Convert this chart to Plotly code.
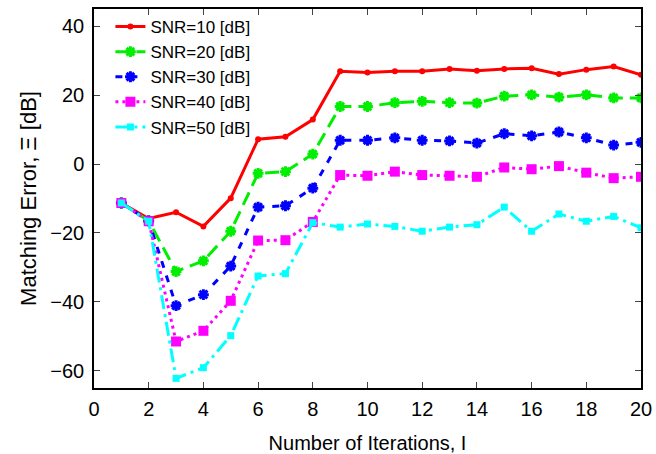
import plotly.graph_objects as go

iterations = list(range(1, 21))
snr10 = [-11.3, -15.8, -14.0, -18.1, -9.9, 7.2, 7.9, 12.9, 26.9, 26.6, 26.9, 26.9, 27.6, 27.1, 27.6, 27.8, 26.1, 27.4, 28.3, 25.9]
snr20 = [-11.3, -16.5, -31.2, -28.1, -19.5, -2.7, -2.2, 2.9, 16.7, 16.7, 17.8, 18.2, 17.8, 17.7, 19.7, 20.1, 19.4, 20.1, 19.2, 19.2]
snr30 = [-11.3, -16.5, -41.1, -37.9, -29.6, -12.5, -12.1, -7.0, 6.9, 6.9, 7.6, 6.9, 6.7, 6.1, 8.8, 8.2, 9.3, 7.6, 5.5, 6.3]
snr40 = [-11.3, -16.6, -51.5, -48.4, -39.7, -22.2, -22.1, -16.8, -3.2, -3.4, -2.2, -3.2, -3.4, -3.7, -1.0, -1.5, -0.6, -2.5, -4.1, -3.7]
snr50 = [-11.3, -16.6, -62.2, -59.1, -49.8, -32.5, -31.8, -17.0, -18.3, -17.4, -18.1, -19.5, -18.3, -17.6, -12.5, -19.5, -14.5, -16.6, -15.2, -18.5]

names = ["SNR=10 [dB]", "SNR=20 [dB]", "SNR=30 [dB]", "SNR=40 [dB]", "SNR=50 [dB]"]
series = [snr10, snr20, snr30, snr40, snr50]
colors = ["#ff0000", "#00ee00", "#0000ff", "#ff00ff", "#00ffff"]
dashes = ["solid", "14px,7px", "7px,8px", "3px,4px", "14px,5px,3px,5px"]
symbols = ["circle", "asterisk-open", "asterisk-open", "square", "square"]
sizes = [6, 9, 9, 10, 7]
mlw = [0, 3, 3, 0, 0]

fig = go.Figure()
for n, s, c, d, sym, sz, lw in zip(names, series, colors, dashes, symbols, sizes, mlw):
    fig.add_trace(go.Scatter(
        x=iterations, y=s, name=n, mode="lines+markers",
        line=dict(color=c, width=3, dash=d),
        marker=dict(symbol=sym, size=sz, color=c, line=dict(color=c, width=lw)),
    ))

font = "Liberation Sans, Arial, sans-serif"
fig.update_layout(
    width=656, height=454,
    margin=dict(l=94, r=15, t=9, b=66),
    paper_bgcolor="white", plot_bgcolor="white",
    font=dict(family=font, size=20, color="black"),
    showlegend=True,
    legend=dict(x=0.03, y=1.0, xanchor="left", yanchor="top",
                bgcolor="rgba(0,0,0,0)", font=dict(size=17),
                tracegroupgap=0),
    xaxis=dict(range=[0, 20], dtick=2, ticks="inside", ticklen=6,
               showline=True, linecolor="black", linewidth=1.5, mirror="ticks",
               showgrid=False, zeroline=False, ticklabelstandoff=2, automargin=False,
               title=dict(text="Number of Iterations, I", font=dict(size=20), standoff=17),
               tickfont=dict(size=20)),
    yaxis=dict(range=[-65, 45], dtick=20, ticks="inside", ticklen=6,
               showline=True, linecolor="black", linewidth=1.5, mirror="ticks",
               showgrid=False, zeroline=False, ticklabelstandoff=4, automargin=False,
               title=dict(text="Matching Error, Ξ [dB]", font=dict(size=22), standoff=8),
               tickfont=dict(size=20)),
)

fig.write_html("out.html")
